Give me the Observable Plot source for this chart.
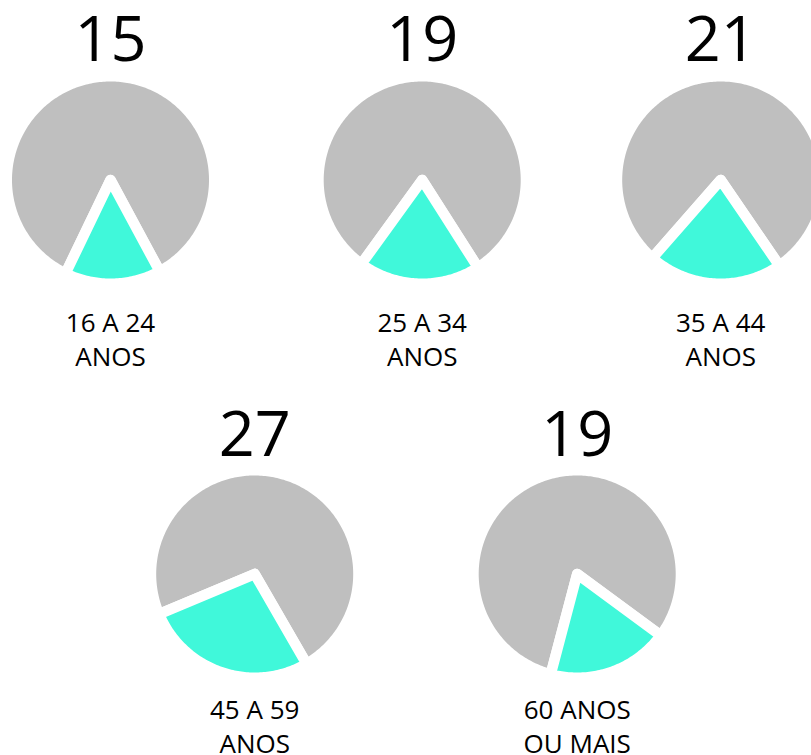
<!DOCTYPE html>
<html>
<head>
<meta charset="utf-8">
<script src="https://cdn.jsdelivr.net/npm/d3@7"></script>
<script src="https://cdn.jsdelivr.net/npm/@observablehq/plot@0.6"></script>
<style>
  html, body { margin: 0; padding: 0; background: #ffffff; }
  #chart svg { display: block; }
</style>
</head>
<body>
<div id="chart"></div>
<script>
// ---- data ----
const groups = ["16 A 24\nANOS", "25 A 34\nANOS", "35 A 44\nANOS", "45 A 59\nANOS", "60 ANOS\nOU MAIS"];
const values = [15, 19, 21, 27, 19];           // % (turquoise slice)
const sliceMidDeg = [178.7, 181.7, 183.4, 198.6, 160.6]; // orientation of the highlighted slice (clockwise from top)

// ---- layout ----
const W = 811, H = 755;
const centers = [[110, 179.5], [421.7, 179.5], [720.2, 179.5], [254.2, 573.5], [576.7, 573.5]];
const gap = 10.5;              // white separator width
const R = 98.5 + gap / 2;      // outer radius incl. half the stroke
const numberBaseline = [60, 60, 60, 455, 455];
const labelBaseline = [365.5, 365.5, 365.5, 752, 752];
const GRAY = "#bfbfbf", TURQ = "#40f8da";

function wedge(id, i, a0, a1) {
  const [cx, cy] = centers[i];
  const pts = [{id, x: cx, y: cy}];
  const n = Math.max(2, Math.ceil(Math.abs(a1 - a0)));
  for (let k = 0; k <= n; k++) {
    const a = (a0 + (a1 - a0) * k / n) * Math.PI / 180;
    pts.push({id, x: cx + R * Math.sin(a), y: cy - R * Math.cos(a)});
  }
  return pts;
}

const grayPts = [], turqPts = [];
values.forEach((v, i) => {
  const half = v * 3.6 / 2;
  const s0 = sliceMidDeg[i] - half, s1 = sliceMidDeg[i] + half;
  turqPts.push(...wedge("t" + i, i, s0, s1));
  grayPts.push(...wedge("g" + i, i, s1, s0 + 360));
});

const chart = Plot.plot({
  width: W,
  height: H,
  margin: 0,
  style: {background: "#ffffff", fontFamily: "'Open Sans', sans-serif"},
  x: {domain: [0, W], range: [0, W], axis: null},
  y: {domain: [0, H], range: [0, H], axis: null},
  marks: [
    Plot.line(grayPts, {x: "x", y: "y", z: "id", curve: "linear-closed", fill: GRAY,
      stroke: "#ffffff", strokeWidth: gap, strokeLinejoin: "round"}),
    Plot.line(turqPts, {x: "x", y: "y", z: "id", curve: "linear-closed", fill: TURQ,
      stroke: "#ffffff", strokeWidth: gap, strokeLinejoin: "round"}),
    Plot.text(values, {
      x: (d, i) => centers[i][0], y: (d, i) => numberBaseline[i],
      text: d => String(d), fontSize: 63, lineAnchor: "bottom", fill: "#000000",
      fontFamily: "'Open Sans', sans-serif"
    }),
    Plot.text(groups, {
      x: (d, i) => centers[i][0], y: (d, i) => labelBaseline[i],
      text: d => d, fontSize: 26, lineHeight: 1.3, lineAnchor: "bottom", fill: "#000000",
      fontFamily: "'Open Sans', sans-serif"
    })
  ]
});
document.getElementById("chart").appendChild(chart);
</script>
</body>
</html>
